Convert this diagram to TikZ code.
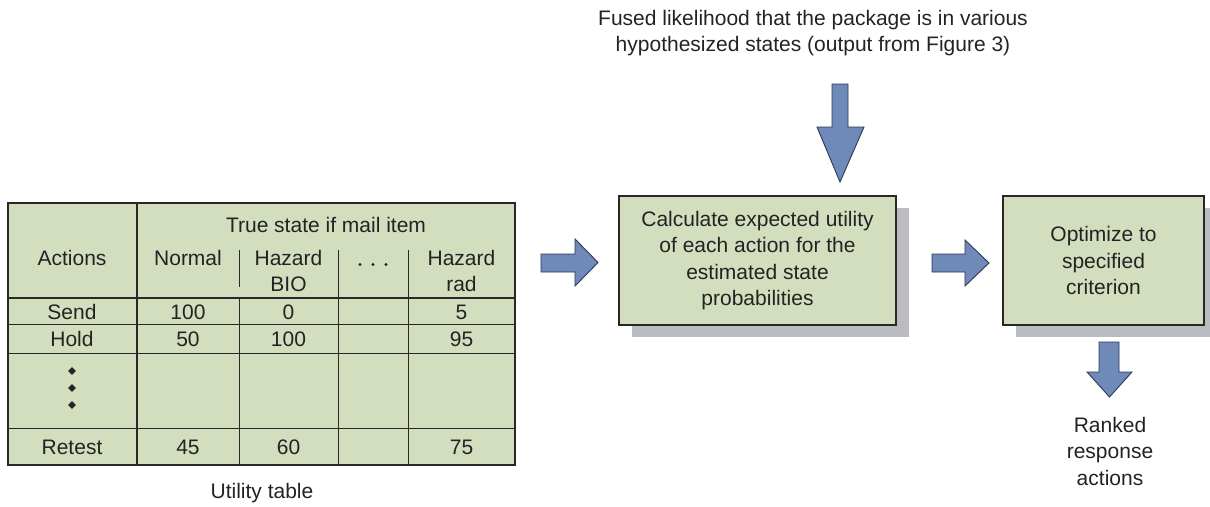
\documentclass[tikz,border=0pt]{standalone}
\usepackage{fontspec}
\setmainfont{Liberation Sans}
\usetikzlibrary{shadows,shapes.geometric}
\definecolor{cellgreen}{RGB}{211,222,191}
\definecolor{shadowgray}{RGB}{187,188,193}
\definecolor{arrowblue}{RGB}{111,138,184}
\definecolor{arrowedge}{RGB}{45,55,85}
\definecolor{txt}{RGB}{35,35,35}
\definecolor{rule}{RGB}{40,40,40}
\tikzset{
  lbl/.style={font=\fontsize{21}{26.5}\selectfont, text=txt, inner sep=0pt, align=center},
  procbox/.style={lbl, draw=rule, line width=1.2pt, fill=cellgreen,
    general shadow={fill=shadowgray, shadow xshift=13pt, shadow yshift=-12pt}},
  blockarrow/.style={fill=arrowblue, draw=arrowedge, line width=0.9pt, line join=miter},
  thinrule/.style={draw=rule, line width=0.9pt},
  thickrule/.style={draw=rule, line width=2pt},
  bullet/.style={fill=txt, inner sep=0pt, minimum size=8pt, shape=diamond},
  ellipsisdot/.style={fill=txt, inner sep=0pt, minimum size=3.4pt, shape=circle}
}
\begin{document}
\begin{tikzpicture}[x=1pt,y=-1pt]
\useasboundingbox (0,0) rectangle (1210,506);

% ---------- utility table ----------
\fill[cellgreen] (8,203) rectangle (515,465);
% header sub-column separators
\draw[thinrule] (239,250) -- (239,287);
\draw[thinrule] (338,250) -- (338,298);
\draw[thinrule] (408,250) -- (408,298);
% body column separators
\draw[thinrule] (239,298) -- (239,465);
\draw[thinrule] (338,298) -- (338,465);
\draw[thinrule] (408,298) -- (408,465);
% row separators
\draw[thinrule] (8,324) -- (515,324);
\draw[thinrule] (8,353) -- (515,353);
\draw[thinrule] (8,428) -- (515,428);
% heavy rules
\draw[thickrule] (8,298) -- (515,298);
\draw[thickrule] (137,203) -- (137,465);
\draw[draw=rule, line width=1.5pt] (8,203) rectangle (515,465);

\node[lbl] (head) at (326,225) {True state if mail item};
\node[lbl] (hact) at (72,258) {Actions};
\node[lbl] (hnorm) at (188,258) {Normal};
\node[lbl] (hbio) at (288.5,271) {Hazard\\BIO};
\node[ellipsisdot] (hdotA) at (360,264.5) {};
\node[ellipsisdot] (hdotB) at (373,264.5) {};
\node[ellipsisdot] (hdotC) at (386,264.5) {};
\node[lbl] (hrad) at (461.5,271) {Hazard\\rad};

\node[lbl] (rsend) at (72,312) {Send};
\node[lbl] (send1) at (188,312) {100};
\node[lbl] (send2) at (288.5,312) {0};
\node[lbl] (send4) at (461.5,312) {5};

\node[lbl] (rhold) at (72,339) {Hold};
\node[lbl] (hold1) at (188,339) {50};
\node[lbl] (hold2) at (288.5,339) {100};
\node[lbl] (hold4) at (461.5,339) {95};

\node[bullet] (dot1) at (72,371) {};
\node[bullet] (dot2) at (72,388) {};
\node[bullet] (dot3) at (72,405) {};

\node[lbl] (rretest) at (72,447) {Retest};
\node[lbl] (ret1) at (188,447) {45};
\node[lbl] (ret2) at (288.5,447) {60};
\node[lbl] (ret4) at (461.5,447) {75};

\node[lbl] (caption) at (262,493) {Utility table};

% ---------- processing boxes ----------
\node[procbox, minimum width=277pt, minimum height=129pt] (calc) at (757.5,260.5)
  {Calculate expected utility\\of each action for the\\estimated state\\probabilities};
\node[procbox, minimum width=201pt, minimum height=129pt] (opt) at (1103.5,260.5)
  {Optimize to\\specified\\criterion};

% ---------- input / output texts ----------
\node[lbl] (fused) at (813,33) {Fused likelihood that the package is in various\\hypothesized states (output from Figure 3)};
\node[lbl] (ranked) at (1110,451) {Ranked\\response\\actions};

% ---------- block arrows ----------
% table -> calc
\draw[blockarrow] (541,254) -- (575,254) -- (575,239) -- (598,262.5)
  -- (575,286) -- (575,272) -- (541,272) -- cycle;
% calc -> opt
\draw[blockarrow] (932,254) -- (965,254) -- (965,240) -- (989,263)
  -- (965,286) -- (965,272) -- (932,272) -- cycle;
% fused likelihood -> calc
\draw[blockarrow] (832,84) -- (848,84) -- (848,127) -- (864,127) -- (840,182)
  -- (817,127) -- (832,127) -- cycle;
% opt -> ranked actions
\draw[blockarrow] (1099,342) -- (1119,342) -- (1119,372) -- (1132,372) -- (1109.5,397)
  -- (1087,372) -- (1099,372) -- cycle;
\end{tikzpicture}
\end{document}
